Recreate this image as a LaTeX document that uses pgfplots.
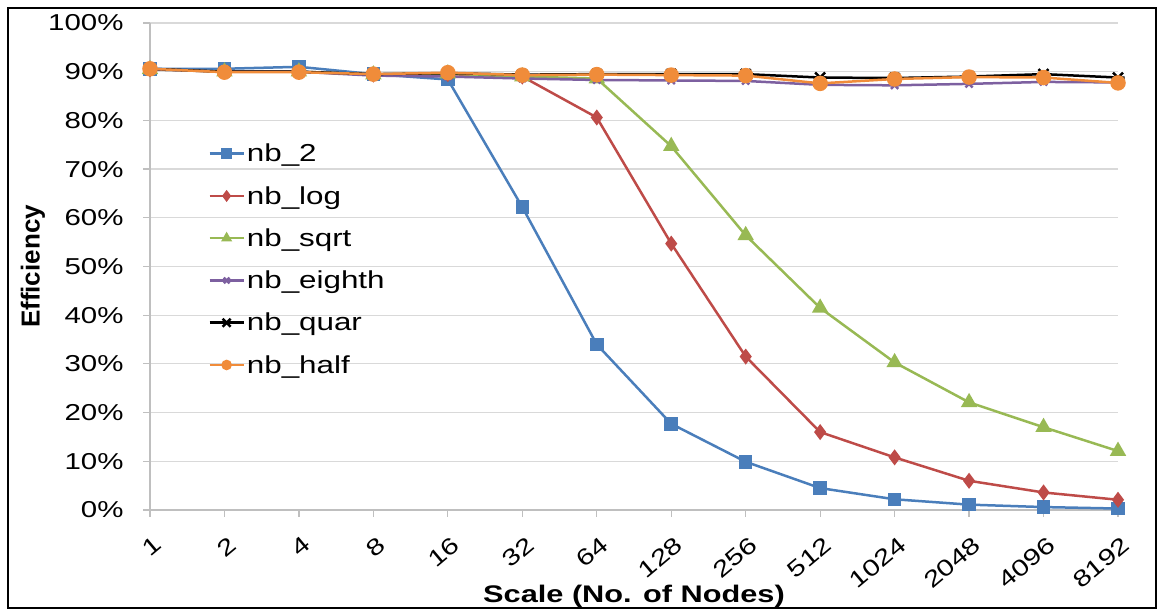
\documentclass[border=0pt]{standalone}
\usepackage{fontspec}
\setmainfont{Liberation Sans}[FakeStretch=1.28]
\newfontfamily\plainsans{Liberation Sans}
\usepackage{pgfplots}
\pgfplotsset{compat=1.18}

\definecolor{cblue}{HTML}{4A7EBB}
\definecolor{cred}{HTML}{BE4B48}
\definecolor{cgreen}{HTML}{98B954}
\definecolor{cpurple}{HTML}{7D60A0}
\definecolor{corange}{HTML}{F08C3A}
\definecolor{cgrid}{HTML}{D9D9D9}
\definecolor{caxis}{HTML}{BFBFBF}

% x with a bar through it (Excel star marker)
\pgfdeclareplotmark{xstar}{%
  \pgfpathmoveto{\pgfqpoint{-\pgfplotmarksize}{-\pgfplotmarksize}}%
  \pgfpathlineto{\pgfqpoint{\pgfplotmarksize}{\pgfplotmarksize}}%
  \pgfpathmoveto{\pgfqpoint{-\pgfplotmarksize}{\pgfplotmarksize}}%
  \pgfpathlineto{\pgfqpoint{\pgfplotmarksize}{-\pgfplotmarksize}}%
  \pgfpathmoveto{\pgfqpoint{-1.3\pgfplotmarksize}{0pt}}%
  \pgfpathlineto{\pgfqpoint{1.3\pgfplotmarksize}{0pt}}%
  \pgfusepathqstroke}

\newcommand{\fnt}{\fontsize{23}{27}\selectfont}

\begin{document}
\begin{tikzpicture}
\useasboundingbox (-150pt,-100pt) rectangle (1010pt,510pt);
\draw[black, line width=2pt] (-142pt,-98pt) rectangle (1006pt,502pt);
\begin{axis}[
  at={(0pt,0pt)}, anchor=south west,
  scale only axis, width=968pt, height=487pt,
  xmin=0, xmax=13, ymin=0, ymax=100,
  clip=false,
  axis x line*=bottom, axis y line*=left,
  axis line style={draw=caxis, line width=1.2pt, -},
  tick align=outside, major tick length=7pt,
  tick style={draw=caxis, line width=1.2pt},
  ymajorgrids, major grid style={draw=cgrid, line width=1.2pt},
  xtick={0,...,13},
  xticklabels={1,2,4,8,16,32,64,128,256,512,1024,2048,4096,8192},
  ytick={0,10,...,100},
  yticklabels={0\%,10\%,20\%,30\%,40\%,50\%,60\%,70\%,80\%,90\%,100\%},
  y tick label style={font=\fnt, xshift=-16pt},
  x tick label style={font=\fnt,
    xshift=3pt, yshift=-18pt, rotate=40, anchor=north east, inner sep=0pt},
  every axis x label/.style={at={(axis description cs:0.5,0)}, yshift=-86pt, anchor=center,
    font=\fontsize{24}{28}\selectfont\bfseries},
  every axis y label/.style={at={(axis description cs:0,0.5)}, xshift=-117pt,
    rotate=90, anchor=center, font=\plainsans\fontsize{26}{30}\selectfont\bfseries},
  xlabel={Scale (No. of Nodes)},
  ylabel={Efficiency},
  legend style={at={(axis description cs:0.057,0.76)}, anchor=north west,
    draw=none, fill=none, font=\fontsize{24.5}{28}\selectfont, row sep=19pt,
    /tikz/every even column/.append style={column sep=2pt}},
  legend cell align=left,
  legend image code/.code={%
    \draw[mark repeat=2, mark phase=2, mark size=4pt] plot coordinates {(0pt,0pt) (17pt,0pt) (34pt,0pt)};},
  every axis plot/.append style={line width=2.5pt, mark options={solid}},
]
\addplot[cblue, mark=square*, mark size=5.5pt] coordinates {
 (0,90.6) (1,90.6) (2,91.0) (3,89.5) (4,88.4) (5,62.2) (6,34.0)
 (7,17.7) (8,9.9) (9,4.5) (10,2.2) (11,1.1) (12,0.6) (13,0.3)};
\addlegendentry{nb\_2}
\addplot[cred, mark=diamond*, mark size=6pt] coordinates {
 (0,90.5) (1,90.0) (2,90.0) (3,89.4) (4,89.5) (5,89.0) (6,80.6)
 (7,54.7) (8,31.5) (9,16.0) (10,10.8) (11,6.0) (12,3.6) (13,2.1)};
\addlegendentry{nb\_log}
\addplot[cgreen, mark=triangle*, mark size=7pt] coordinates {
 (0,90.5) (1,90.0) (2,90.0) (3,89.4) (4,89.6) (5,89.0) (6,88.6)
 (7,74.7) (8,56.4) (9,41.5) (10,30.3) (11,22.1) (12,17.0) (13,12.1)};
\addlegendentry{nb\_sqrt}
\addplot[cpurple, mark=x, mark size=5pt] coordinates {
 (0,90.5) (1,90.0) (2,90.0) (3,89.2) (4,89.0) (5,88.6) (6,88.3)
 (7,88.2) (8,88.1) (9,87.3) (10,87.2) (11,87.5) (12,87.9) (13,87.8)};
\addlegendentry{nb\_eighth}
\addplot[black, mark=xstar, mark size=5pt] coordinates {
 (0,90.6) (1,90.0) (2,90.0) (3,89.5) (4,89.7) (5,89.4) (6,89.5)
 (7,89.5) (8,89.5) (9,88.8) (10,88.7) (11,89.0) (12,89.5) (13,88.8)};
\addlegendentry{nb\_quar}
\addplot[corange, mark=*, mark size=6.5pt] coordinates {
 (0,90.6) (1,89.9) (2,89.9) (3,89.5) (4,89.8) (5,89.3) (6,89.4)
 (7,89.3) (8,89.2) (9,87.6) (10,88.5) (11,88.9) (12,88.8) (13,87.7)};
\addlegendentry{nb\_half}
\end{axis}
\end{tikzpicture}
\end{document}
